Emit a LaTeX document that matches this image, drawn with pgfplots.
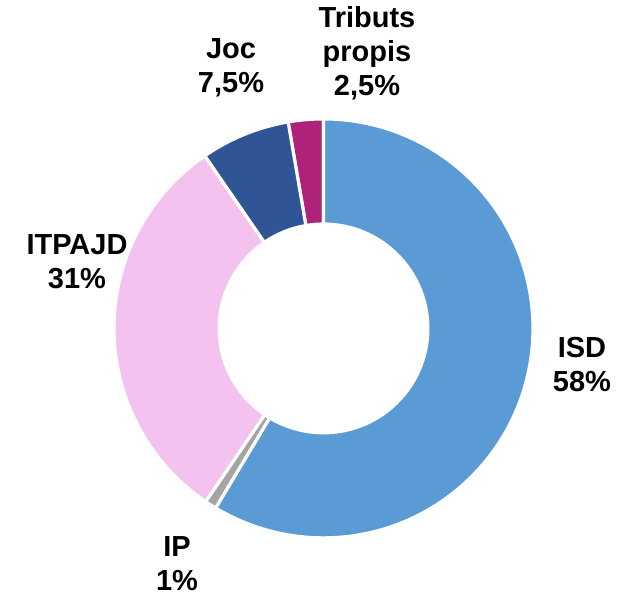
\documentclass[border=0pt]{standalone}
\usepackage{fontspec}
\setmainfont{Liberation Sans}
\usepackage{pgfplots}
\pgfplotsset{compat=1.18}

\definecolor{cISD}{HTML}{5B9BD5}
\definecolor{cIP}{HTML}{A5A5A5}
\definecolor{cITP}{HTML}{F4C2EE}
\definecolor{cJoc}{HTML}{2F5597}
\definecolor{cTrib}{HTML}{AE2379}

\tikzset{lbl/.style={font=\bfseries\fontsize{14.5}{17}\selectfont, align=center, text=black}}

% shares (%), counter-clockwise from the top
\def\vTrib{2.7}
\def\vJoc{6.9}
\def\vITP{30.9}
\def\vIP{0.9}
\def\vISD{58.6}

\pgfmathsetmacro\aA{90}
\pgfmathsetmacro\aB{\aA+3.6*\vTrib}
\pgfmathsetmacro\aC{\aB+3.6*\vJoc}
\pgfmathsetmacro\aD{\aC+3.6*\vITP}
\pgfmathsetmacro\aE{\aD+3.6*\vIP}
\pgfmathsetmacro\aF{\aE+3.6*\vISD}

\def\cx{323.5}
\def\cy{264}
\def\R{209.5}
\def\r{106}

\begin{document}
\begin{tikzpicture}
\begin{axis}[
  hide axis,
  scale only axis,
  width=313.5pt, height=296pt,
  xmin=0, xmax=627, ymin=0, ymax=592,
  clip=false,
  every axis plot/.append style={draw=white, line width=1.6pt, samples=90},
]
\addplot[fill=cTrib, domain=\aA:\aB] ({\cx+\R*cos(x)},{\cy+\R*sin(x)}) -- (axis cs:\cx,\cy) -- cycle;
\addplot[fill=cJoc, domain=\aB:\aC] ({\cx+\R*cos(x)},{\cy+\R*sin(x)}) -- (axis cs:\cx,\cy) -- cycle;
\addplot[fill=cITP, domain=\aC:\aD] ({\cx+\R*cos(x)},{\cy+\R*sin(x)}) -- (axis cs:\cx,\cy) -- cycle;
\addplot[fill=cIP, domain=\aD:\aE, samples=10] ({\cx+\R*cos(x)},{\cy+\R*sin(x)}) -- (axis cs:\cx,\cy) -- cycle;
\addplot[fill=cISD, domain=\aE:\aF] ({\cx+\R*cos(x)},{\cy+\R*sin(x)}) -- (axis cs:\cx,\cy) -- cycle;
% hole
\addplot[fill=white, draw=none, domain=0:360, samples=120] ({\cx+\r*cos(x)},{\cy+\r*sin(x)}) -- cycle;

\node[lbl] at (axis cs:367,539) {Tributs\\propis\\2,5\%};
\node[lbl] at (axis cs:231,525) {Joc\\7,5\%};
\node[lbl] at (axis cs:77,331) {ITPAJD\\31\%};
\node[lbl] at (axis cs:582,228) {ISD\\58\%};
\node[lbl] at (axis cs:177,29) {IP\\1\%};
\path (axis cs:0,0) (axis cs:627,592);
\end{axis}
\end{tikzpicture}
\end{document}
